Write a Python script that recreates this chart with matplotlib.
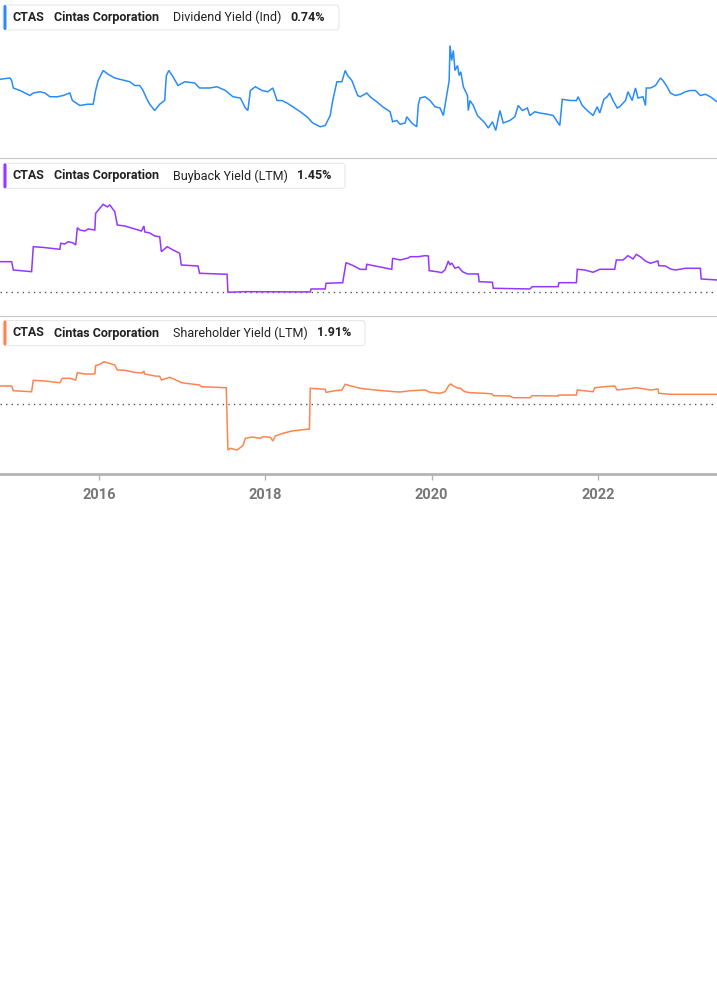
import numpy as np
import matplotlib.pyplot as plt
from matplotlib.patches import FancyBboxPatch

plt.rcParams['font.family'] = ['Roboto', 'DejaVu Sans']

# ---- data (decimal year, percent) ----
div_dates = [2014.81, 2014.93, 2014.95, 2014.97, 2015.05, 2015.17, 2015.21, 2015.29, 2015.35, 2015.41,
             2015.50, 2015.57, 2015.65, 2015.68, 2015.77, 2015.86, 2015.93, 2015.96, 2015.99, 2016.05,
             2016.11, 2016.19, 2016.31, 2016.37, 2016.43, 2016.49, 2016.53, 2016.57, 2016.61, 2016.67,
             2016.73, 2016.79, 2016.81, 2016.84, 2016.89, 2016.95, 2017.03, 2017.15, 2017.21, 2017.33,
             2017.42, 2017.52, 2017.61, 2017.70, 2017.76, 2017.79, 2017.82, 2017.88, 2017.96, 2018.03,
             2018.09, 2018.14, 2018.20, 2018.26, 2018.33, 2018.42, 2018.50, 2018.57, 2018.66, 2018.72,
             2018.78, 2018.81, 2018.86, 2018.92, 2018.96, 2018.99, 2019.04, 2019.11, 2019.14, 2019.22,
             2019.26, 2019.34, 2019.41, 2019.50, 2019.53, 2019.58, 2019.62, 2019.68, 2019.70, 2019.76,
             2019.82, 2019.84, 2019.86, 2019.92, 2019.98, 2020.04, 2020.10, 2020.14, 2020.17, 2020.21,
             2020.22, 2020.24, 2020.26, 2020.28, 2020.31, 2020.33, 2020.35, 2020.38, 2020.43, 2020.44,
             2020.46, 2020.50, 2020.55, 2020.58, 2020.64, 2020.68, 2020.73, 2020.77, 2020.82, 2020.86,
             2020.94, 2021.00, 2021.04, 2021.09, 2021.15, 2021.18, 2021.24, 2021.30, 2021.39, 2021.46,
             2021.51, 2021.54, 2021.57, 2021.66, 2021.74, 2021.76, 2021.81, 2021.87, 2021.94, 2021.99,
             2022.02, 2022.07, 2022.11, 2022.14, 2022.18, 2022.23, 2022.26, 2022.33, 2022.36, 2022.41,
             2022.45, 2022.48, 2022.54, 2022.57, 2022.58, 2022.63, 2022.69, 2022.75, 2022.78, 2022.83,
             2022.87, 2022.93, 2022.99, 2023.05, 2023.11, 2023.17, 2023.23, 2023.29, 2023.35, 2023.43]
div_vals = [0.92, 0.93, 0.91, 0.85, 0.83, 0.79, 0.81, 0.82, 0.81, 0.78,
            0.78, 0.79, 0.81, 0.75, 0.71, 0.72, 0.72, 0.83, 0.91, 0.99,
            0.96, 0.93, 0.91, 0.90, 0.87, 0.87, 0.83, 0.77, 0.72, 0.67,
            0.72, 0.75, 0.95, 0.99, 0.94, 0.87, 0.90, 0.89, 0.85, 0.85,
            0.86, 0.83, 0.78, 0.77, 0.69, 0.67, 0.83, 0.86, 0.83, 0.82,
            0.85, 0.75, 0.75, 0.73, 0.70, 0.66, 0.62, 0.57, 0.54, 0.55,
            0.63, 0.75, 0.90, 0.90, 0.99, 0.95, 0.91, 0.79, 0.78, 0.81,
            0.78, 0.74, 0.70, 0.66, 0.58, 0.59, 0.56, 0.57, 0.62, 0.57,
            0.54, 0.72, 0.77, 0.78, 0.75, 0.70, 0.69, 0.63, 0.75, 0.91,
            1.19, 1.07, 1.15, 0.99, 1.03, 0.95, 0.98, 0.86, 0.79, 0.67,
            0.75, 0.71, 0.63, 0.61, 0.57, 0.53, 0.58, 0.51, 0.67, 0.57,
            0.59, 0.62, 0.71, 0.67, 0.69, 0.63, 0.66, 0.65, 0.64, 0.63,
            0.58, 0.55, 0.76, 0.75, 0.75, 0.78, 0.71, 0.67, 0.63, 0.70,
            0.65, 0.76, 0.78, 0.81, 0.75, 0.69, 0.70, 0.75, 0.82, 0.75,
            0.85, 0.77, 0.78, 0.71, 0.85, 0.85, 0.87, 0.93, 0.91, 0.86,
            0.81, 0.79, 0.80, 0.82, 0.83, 0.83, 0.79, 0.80, 0.78, 0.74]

bb_dates = [2014.81, 2014.95, 2014.97, 2015.19, 2015.21, 2015.33, 2015.53, 2015.54, 2015.59, 2015.63,
            2015.69, 2015.72, 2015.74, 2015.77, 2015.83, 2015.87, 2015.95, 2015.96, 2016.01, 2016.05,
            2016.10, 2016.13, 2016.19, 2016.22, 2016.31, 2016.43, 2016.51, 2016.54, 2016.55, 2016.61,
            2016.67, 2016.73, 2016.75, 2016.82, 2016.89, 2016.97, 2016.99, 2017.19, 2017.21, 2017.54,
            2017.55, 2017.76, 2018.54, 2018.55, 2018.72, 2018.73, 2018.93, 2018.97, 2019.04, 2019.14,
            2019.21, 2019.22, 2019.32, 2019.52, 2019.53, 2019.62, 2019.72, 2019.74, 2019.84, 2019.92,
            2019.96, 2019.97, 2020.08, 2020.12, 2020.16, 2020.20, 2020.22, 2020.24, 2020.28, 2020.32,
            2020.37, 2020.43, 2020.56, 2020.57, 2020.73, 2020.74, 2021.18, 2021.21, 2021.52, 2021.53,
            2021.74, 2021.75, 2021.84, 2021.94, 2022.02, 2022.20, 2022.22, 2022.30, 2022.36, 2022.42,
            2022.46, 2022.51, 2022.57, 2022.63, 2022.69, 2022.72, 2022.73, 2022.81, 2022.87, 2022.93,
            2023.05, 2023.23, 2023.24, 2023.43]
bb_vals = [3.61, 3.61, 2.63, 2.43, 5.38, 5.29, 5.07, 5.78, 5.70, 5.97,
           5.82, 5.58, 7.62, 7.35, 7.23, 7.47, 7.35, 9.32, 9.91, 10.38,
           10.07, 10.30, 9.51, 7.94, 7.82, 7.47, 7.23, 7.82, 7.12, 7.00,
           6.64, 6.56, 4.79, 5.38, 4.99, 4.60, 3.22, 3.10, 2.24, 2.12,
           0.00, 0.07, 0.04, 0.39, 0.39, 1.06, 1.13, 3.49, 3.22, 2.71,
           2.69, 3.30, 3.10, 2.71, 4.01, 3.81, 4.05, 4.20, 4.20, 4.32,
           4.28, 2.55, 2.40, 2.31, 2.63, 3.69, 3.22, 3.46, 2.83, 2.99,
           2.43, 2.16, 2.16, 1.25, 1.18, 0.47, 0.39, 0.66, 0.66, 1.13,
           1.13, 2.71, 2.63, 2.36, 2.71, 2.71, 3.81, 3.81, 4.32, 3.93,
           4.48, 4.17, 3.69, 3.42, 3.61, 3.69, 3.14, 3.10, 2.75, 2.63,
           2.83, 2.83, 1.57, 1.45]

sh_dates = [2014.81, 2014.95, 2014.97, 2015.19, 2015.21, 2015.35, 2015.53, 2015.56, 2015.65, 2015.72,
            2015.74, 2015.83, 2015.95, 2015.96, 2016.01, 2016.06, 2016.11, 2016.19, 2016.22, 2016.31,
            2016.43, 2016.52, 2016.54, 2016.55, 2016.67, 2016.73, 2016.75, 2016.85, 2016.97, 2016.99,
            2017.21, 2017.23, 2017.53, 2017.55, 2017.58, 2017.66, 2017.73, 2017.76, 2017.84, 2017.94,
            2017.97, 2018.06, 2018.09, 2018.12, 2018.21, 2018.32, 2018.42, 2018.53, 2018.54, 2018.72,
            2018.73, 2018.84, 2018.92, 2018.96, 2019.02, 2019.14, 2019.32, 2019.56, 2019.62, 2019.74,
            2019.92, 2019.98, 2020.10, 2020.16, 2020.21, 2020.23, 2020.26, 2020.32, 2020.34, 2020.40,
            2020.46, 2020.64, 2020.73, 2020.74, 2020.94, 2020.98, 2021.18, 2021.21, 2021.52, 2021.53,
            2021.74, 2021.75, 2021.94, 2021.96, 2022.08, 2022.20, 2022.23, 2022.33, 2022.41, 2022.45,
            2022.51, 2022.63, 2022.72, 2022.73, 2022.87, 2023.11, 2023.43]
sh_vals = [3.55, 3.55, 2.62, 2.42, 4.67, 4.53, 4.20, 5.06, 5.06, 4.73,
           6.17, 5.91, 5.91, 7.55, 7.82, 8.33, 8.08, 7.68, 6.70, 6.64,
           6.24, 6.11, 6.50, 5.91, 5.52, 5.46, 4.73, 5.26, 4.39, 4.20,
           3.74, 3.41, 3.21, -9.06, -8.73, -9.06, -8.21, -6.76, -6.50, -6.76,
           -6.44, -6.56, -7.29, -6.30, -5.77, -5.32, -5.12, -4.93, 3.09, 2.90,
           2.30, 2.62, 2.76, 3.88, 3.61, 3.09, 2.76, 2.42, 2.36, 2.62,
           2.76, 2.30, 2.11, 2.42, 3.74, 3.94, 3.55, 3.09, 3.15, 2.42,
           2.23, 2.11, 1.97, 1.64, 1.58, 1.24, 1.24, 1.64, 1.58, 1.77,
           1.77, 2.76, 2.42, 3.21, 3.41, 3.55, 2.76, 2.96, 3.09, 3.21,
           3.09, 2.76, 2.96, 2.11, 1.91, 1.91, 1.91]

metrics = ['Dividend Yield (Ind)', 'Buyback Yield (LTM)', 'Shareholder Yield (LTM)']
last_vals = ['0.74%', '1.45%', '1.91%']
colors = ['#2a8cf7', '#9437ff', '#fb8550']
year_ticks = [2016, 2018, 2020, 2022]

W, H = 717, 1005
fig = plt.figure(figsize=(W / 100, H / 100), dpi=100)


def fx(x):
    return x / W


def fy(y):
    return 1 - y / H


def panel(top, bottom, dates, vals, color, ylim, zero_line):
    ax = fig.add_axes([0, fy(bottom), 1, (bottom - top) / H])
    ax.plot(dates, vals, color=color, lw=1.1, solid_joinstyle='miter')
    ax.set_xlim(2014.81, 2023.43)
    ax.set_ylim(*ylim)
    if zero_line:
        ax.axhline(0, color='#555555', lw=1, ls=(0, (1, 3)), zorder=0)
    for s in ['top', 'left', 'right']:
        ax.spines[s].set_visible(False)
    ax.spines['bottom'].set_color('#c8c8c8')
    ax.set_yticks([])
    ax.set_facecolor('none')
    return ax


def legend_box(top, right, color, metric, value, metric_x, value_x):
    bot = top + 25
    box = FancyBboxPatch((fx(3), fy(bot)), fx(right) - fx(3), (bot - top) / H,
                         boxstyle='round,pad=0,rounding_size=0.004',
                         transform=fig.transFigure, facecolor='white',
                         edgecolor='#e8e8e8', lw=0.8, zorder=5)
    fig.patches.append(box)
    bar = FancyBboxPatch((fx(3.5), fy(bot)), fx(3), (bot - top) / H,
                         boxstyle='round,pad=0,rounding_size=0.002',
                         transform=fig.transFigure, facecolor=color,
                         edgecolor='none', zorder=6)
    fig.patches.append(bar)
    yc = fy(top + 12.5)
    kw = dict(fontsize=9, color='#222222', va='center', zorder=10)
    fig.text(fx(13), yc, 'CTAS', weight='bold', **kw)
    fig.text(fx(54), yc, 'Cintas Corporation', weight='semibold', **kw)
    fig.text(fx(metric_x), yc, metric, **kw)
    fig.text(fx(value_x), yc, value, weight='bold', **kw)


ax1 = panel(0, 158, div_dates, div_vals, colors[0], (0.29, 1.554), False)
ax2 = panel(158.3, 316.5, bb_dates, bb_vals, colors[1], (-2.86, 15.81), True)
ax3 = panel(316.5, 473.7, sh_dates, sh_vals, colors[2], (-13.73, 17.24), True)

for ax in [ax1, ax2]:
    ax.set_xticks([])

ax3.spines['bottom'].set_color('#b4b4b4')
ax3.spines['bottom'].set_linewidth(2)
ax3.set_xticks(year_ticks)
ax3.set_xticklabels([str(y) for y in year_ticks])
ax3.tick_params(axis='x', length=4, width=1, color='#b4b4b4', pad=6,
                labelsize=10.5, labelcolor='#777777')
for lab in ax3.get_xticklabels():
    lab.set_fontweight('bold')

legend_box(5, 339, colors[0], metrics[0], last_vals[0], 173, 290)
legend_box(163.3, 345, colors[1], metrics[1], last_vals[1], 173, 297)
legend_box(320.5, 365, colors[2], metrics[2], last_vals[2], 173, 317)

fig.savefig('out.png', dpi=100, facecolor='white')
